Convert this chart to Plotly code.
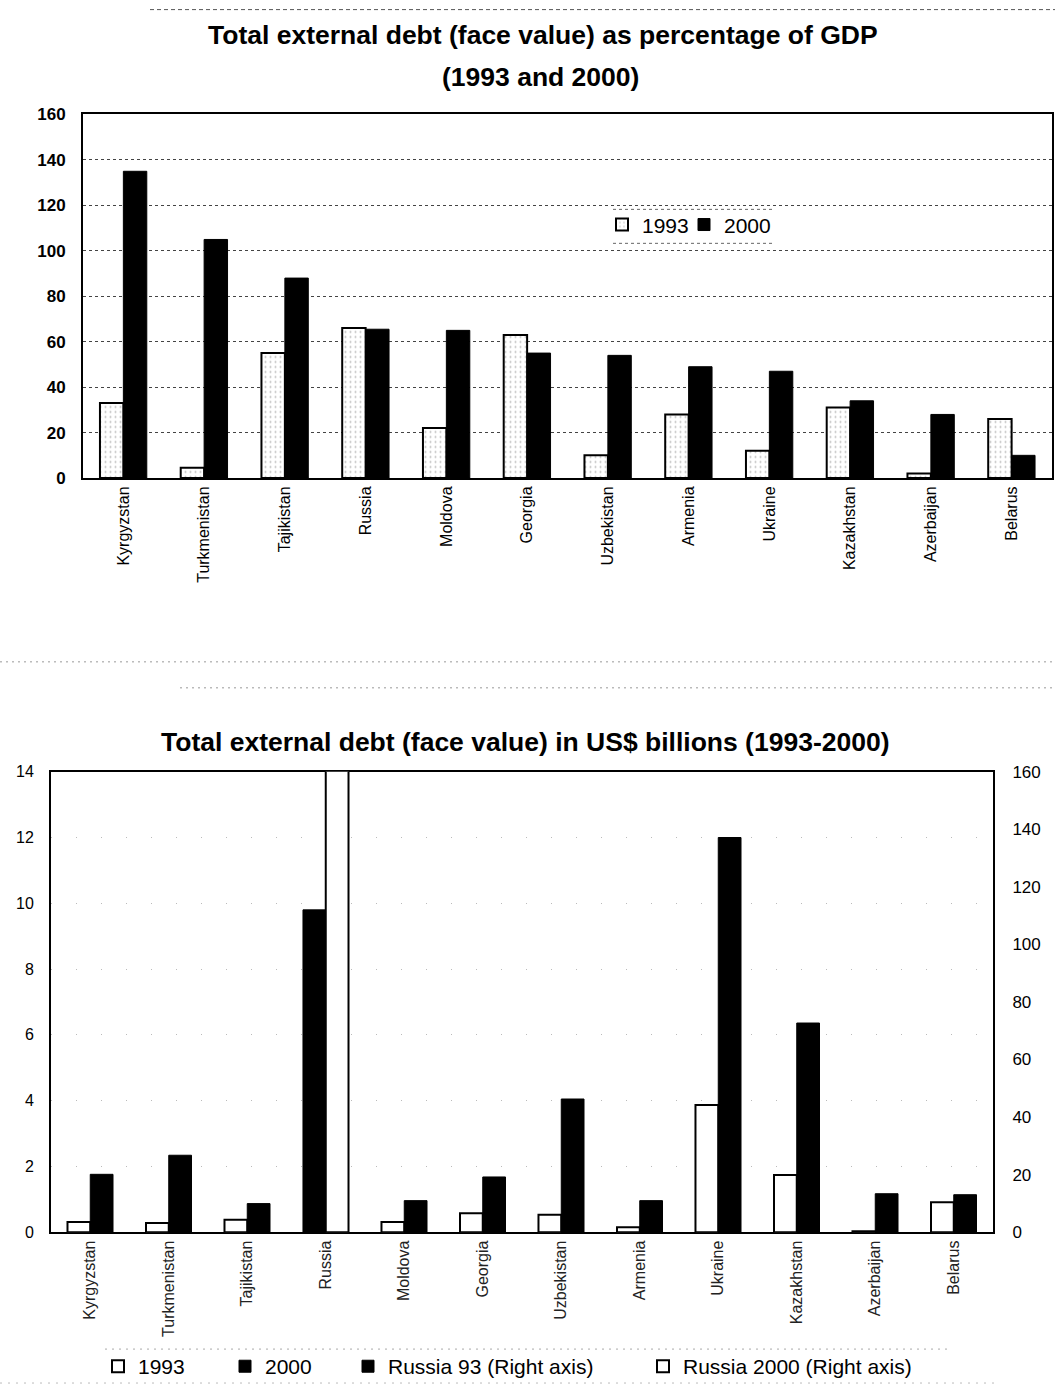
import plotly.graph_objects as go

# ---- data -------------------------------------------------------------
countries = ["Kyrgyzstan", "Turkmenistan", "Tajikistan", "Russia", "Moldova", "Georgia",
             "Uzbekistan", "Armenia", "Ukraine", "Kazakhstan", "Azerbaijan", "Belarus"]

# debt as % of GDP
gdp_1993 = [33, 4.5, 55, 66, 22, 63, 10, 28, 12, 31, 2, 26]
gdp_2000 = [135, 105, 88, 65.5, 65, 55, 54, 49, 47, 34, 28, 10]

# debt in US$ billions (Russia plotted separately on the right axis)
debt_1993 = [0.31, 0.28, 0.38, None, 0.31, 0.58, 0.53, 0.15, 3.87, 1.74, 0.03, 0.91]
debt_2000 = [1.76, 2.34, 0.87, None, 0.96, 1.68, 4.05, 0.96, 12.0, 6.36, 1.17, 1.14]
russia_label = ["Russia"]
russia_1993 = [112]
russia_2000 = [161]

W, H = 1055, 1395
FONT = "Liberation Sans, Arial, sans-serif"
BW = 0.29  # bar width in category units

# vertical page placement: page offset and scale applied to figure pixels
Y_OFF, Y_SCALE = 8.4, 0.9875


def px_x(v):
    return v / W


def px_y(v):
    return 1 - ((v - Y_OFF) / Y_SCALE) / H


fig = go.Figure()

# ---- top chart: % of GDP ---------------------------------------------
fig.add_trace(go.Bar(
    x=countries, y=gdp_1993, name="1993", xaxis="x", yaxis="y",
    offset=-BW, width=BW, legend="legend",
    marker=dict(color="white", line=dict(color="black", width=2),
                pattern=dict(shape=".", fgcolor="#777", size=5, solidity=0.12)),
))
fig.add_trace(go.Bar(
    x=countries, y=gdp_2000, name="2000", xaxis="x", yaxis="y",
    offset=0, width=BW, legend="legend4",
    marker=dict(color="black", line=dict(color="black", width=1)),
))

# ---- bottom chart: US$ billions ----------------------------------------
fig.add_trace(go.Bar(
    x=countries, y=debt_1993, name="1993", xaxis="x2", yaxis="y2",
    offset=-BW, width=BW, legend="legend2",
    marker=dict(color="white", line=dict(color="black", width=2)),
))
fig.add_trace(go.Bar(
    x=countries, y=debt_2000, name="2000", xaxis="x2", yaxis="y2",
    offset=0, width=BW, legend="legend2",
    marker=dict(color="black", line=dict(color="black", width=1)),
))
fig.add_trace(go.Bar(
    x=russia_label, y=russia_1993, name="Russia 93 (Right axis)", xaxis="x2", yaxis="y3",
    offset=-BW, width=BW, legend="legend3",
    marker=dict(color="black", line=dict(color="black", width=1)),
))
fig.add_trace(go.Bar(
    x=russia_label, y=russia_2000, name="Russia 2000 (Right axis)", xaxis="x2", yaxis="y3",
    offset=0, width=BW, legend="legend3",
    marker=dict(color="white", line=dict(color="black", width=2)),
))

axis_line = dict(showline=True, linecolor="black", linewidth=2, ticks="", zeroline=False)
legend_common = dict(orientation="h", xanchor="left", yanchor="top",
                     bgcolor="rgba(0,0,0,0)", borderwidth=0,
                     font=dict(size=21, family=FONT), itemwidth=30)

fig.update_layout(
    width=W, height=H,
    margin=dict(l=0, r=0, t=0, b=0),
    paper_bgcolor="white", plot_bgcolor="white",
    barmode="overlay",
    font=dict(family=FONT, color="black"),
    xaxis=dict(
        domain=[px_x(83), px_x(1052)], anchor="y", type="category",
        categoryorder="array", categoryarray=countries,
        tickangle=-90, tickfont=dict(size=16, family=FONT), mirror=True,
        showgrid=False, range=[-0.5, 11.5], **axis_line,
    ),
    yaxis=dict(
        domain=[px_y(478), px_y(114)], anchor="x", range=[0, 160], dtick=20,
        tickfont=dict(size=17, family=FONT, weight="bold"), mirror=True,
        showgrid=True, gridcolor="#444", griddash="3px,3px", gridwidth=1,
        ticklabelstandoff=12, **axis_line,
    ),
    xaxis2=dict(
        domain=[px_x(51), px_x(993)], anchor="y2", type="category",
        categoryorder="array", categoryarray=countries,
        tickangle=-90, tickfont=dict(size=16, family=FONT, color="#222"), mirror=True,
        showgrid=False, range=[-0.5, 11.5], layer="below traces", **axis_line,
    ),
    yaxis2=dict(
        domain=[px_y(1233), px_y(772)], anchor="x2", range=[0, 14], dtick=2,
        tickfont=dict(size=16, family=FONT),
        showgrid=True, gridcolor="#bbb", griddash="1px,24px", gridwidth=1,
        ticklabelstandoff=12, **axis_line,
    ),
    yaxis3=dict(
        overlaying="y2", side="right", anchor="x2", range=[0, 160], dtick=20,
        tickfont=dict(size=17, family=FONT), showgrid=False,
        ticklabelstandoff=14, **axis_line,
    ),
    legend=dict(x=px_x(602), y=px_y(204), **legend_common),
    legend4=dict(x=px_x(684), y=px_y(204), **legend_common),
    legend2=dict(x=px_x(98), y=px_y(1347), entrywidth=82, **legend_common),
    legend3=dict(x=px_x(348), y=px_y(1347), entrywidth=250, **legend_common),
    showlegend=True,
)

# titles
title_font = dict(size=26.5, family=FONT, color="black")
for txt, xx, yy in [("Total external debt (face value) as percentage of GDP", 543, 34),
                    ("(1993 and 2000)", 540, 76),
                    ("Total external debt (face value) in US$ billions (1993-2000)", 525, 742)]:
    fig.add_annotation(text="<b>" + txt + "</b>", x=px_x(xx), y=px_y(yy),
                       xref="paper", yref="paper", xanchor="center", yanchor="middle",
                       showarrow=False, font=title_font)

# white panel behind the top legend, ruled above and below with dotted lines
fig.add_shape(type="rect", xref="paper", yref="paper", layer="above",
              x0=px_x(613), x1=px_x(772), y0=px_y(243), y1=px_y(209),
              fillcolor="white", line=dict(width=0))
for yy in (209, 243):
    fig.add_shape(type="line", xref="paper", yref="paper", layer="above",
                  x0=px_x(613), x1=px_x(772), y0=px_y(yy), y1=px_y(yy),
                  line=dict(color="#666", width=1, dash="3px,3px"))

# page rules
for x0, x1, yy, col, dash in [(150, 1055, 9, "#555", "4px,3px"),
                              (0, 1055, 662, "#999", "2px,4px"),
                              (180, 1055, 688, "#999", "2px,4px"),
                              (105, 950, 1350, "#aaa", "2px,5px"),
                              (0, 1000, 1384, "#bbb", "2px,6px")]:
    fig.add_shape(type="line", xref="paper", yref="paper",
                  x0=px_x(x0), x1=px_x(x1), y0=px_y(yy), y1=px_y(yy),
                  line=dict(color=col, width=1, dash=dash))

fig.write_html("out.html")
